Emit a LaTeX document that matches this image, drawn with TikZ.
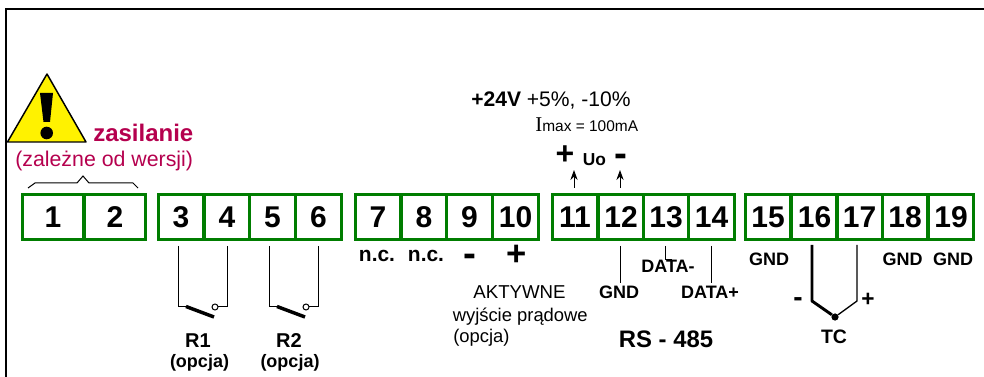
\documentclass[tikz,border=0pt]{standalone}
\usepackage{fontspec}
\setmainfont{Liberation Sans}
\newfontfamily\serifI{Liberation Serif}
\usepackage{tikz}
\usetikzlibrary{arrows.meta}
\definecolor{termgreen}{RGB}{0,125,0}
\definecolor{powerred}{RGB}{181,0,78}

\begin{document}
\begin{tikzpicture}[x=0.75pt,y=0.75pt,
    term/.style={draw=termgreen,line width=2.4pt,minimum height=33.6pt,inner sep=0pt,font=\fontsize{22.5}{22.5}\selectfont\bfseries},
    wide/.style={minimum width=45.8pt},
    narrow/.style={minimum width=34.2pt},
    wire/.style={black,line width=0.75pt},
    heavy/.style={black,line width=2.2pt},
    blab/.style={font=\fontsize{13.5}{13.5}\selectfont\bfseries,anchor=base},
    rlab/.style={font=\fontsize{14}{14}\selectfont,anchor=base west},
    sign/.style={font=\fontsize{26}{26}\selectfont\bfseries},
    minus/.style={font=\fontsize{29}{29}\selectfont\bfseries,anchor=base}]
    \tikzstyle{every node}+=[inner sep=0pt]
    \useasboundingbox (0,0) rectangle (984,-377);
    \draw [black,line width=1.6pt] (6,-377) -- (6,-9) -- (984,-9);
    \foreach \n/\cx in {1/53,2/115}
        \node [term,wide] (t\n) at (\cx,-217) {\n};
    \foreach \n/\cx in {3/181,4/227,5/272.5,6/318.5,7/378,8/424,9/469.5,10/515.5,11/575,12/621,13/666,14/711.5,15/768,16/814.5,17/859.5,18/905,19/951}
        \node [term,narrow] (t\n) at (\cx,-217) {\n};
    \draw [fill=yellow,draw=black,line width=1.1pt,line join=round] (47,-74) -- (86,-142) -- (7.5,-142) -- cycle;
    \fill [black] (40,-93) -- (53,-93) -- (50,-122) -- (43.5,-122) -- cycle;
    \fill [black] (46.7,-133) circle (6.3);
    \node [anchor=base west,text=powerred,font=\fontsize{18}{18}\selectfont\bfseries] (power) at (93,-142) {zasilanie};
    \node [anchor=base west,text=powerred,font=\fontsize{16}{16}\selectfont] (version) at (15,-167) {(zależne od wersji)};
    \draw [wire] (28,-188) -- (35,-183) -- (77,-183) -- (83,-176) -- (89,-183) -- (133,-183) -- (138,-188);
    \coordinate (r1a) at (178,-246);
    \coordinate (r1b) at (227,-246);
    \coordinate (r2a) at (269,-246);
    \coordinate (r2b) at (318,-246);
    \draw [wire] (r1a) -- (178,-307) -- (186,-307);
    \draw [heavy,line width=2.6pt] (186,-306.5) -- (214,-317);
    \draw [wire] (215,-307) circle (3);
    \draw [wire] (218,-307) -- (227,-307) -- (r1b);
    \draw [wire] (r2a) -- (269,-307) -- (277,-307);
    \draw [heavy,line width=2.6pt] (277,-306.5) -- (305,-317);
    \draw [wire] (306,-307) circle (3);
    \draw [wire] (309,-307) -- (318,-307) -- (r2b);
    \node [blab,font=\fontsize{15}{15}\selectfont\bfseries] (r1) at (198,-347) {R1};
    \node [blab] (r1opt) at (199.5,-367) {(opcja)};
    \node [blab,font=\fontsize{15}{15}\selectfont\bfseries] (r2) at (289,-347) {R2};
    \node [blab] (r2opt) at (290,-367) {(opcja)};
    \node [blab,font=\fontsize{15.7}{15.7}\selectfont\bfseries] (nc1) at (377,-262) {n.c.};
    \node [blab,font=\fontsize{15.7}{15.7}\selectfont\bfseries] (nc2) at (426,-262) {n.c.};
    \node [minus] (outminus) at (470,-267) {-};
    \node [sign] (outplus) at (516.5,-255) {+};
    \node [rlab,anchor=base] (active) at (519.5,-299) {AKTYWNE};
    \node [rlab,font=\fontsize{13.8}{13.8}\selectfont] (current) at (452.5,-321) {wyjście prądowe};
    \node [rlab,font=\fontsize{13.8}{13.8}\selectfont] (option) at (453,-342) {(opcja)};
    \node [anchor=base west,font=\fontsize{15.8}{15.8}\selectfont] (supply) at (471,-107) {\textbf{+24V} +5\%, -10\%};
    \node [anchor=base west,font=\fontsize{11.6}{11.6}\selectfont] (imax) at (535,-132) {{\serifI\fontsize{15.8}{15.8}\selectfont I}max = 100mA};
    \node [sign,font=\fontsize{24}{24}\selectfont\bfseries] (uplus) at (565,-155) {+};
    \node [blab,font=\fontsize{13}{13}\selectfont\bfseries] (uo) at (594.5,-166) {Uo};
    \node [minus] (uminus) at (621,-167) {-};
    \coordinate (a11) at (574,-188);
    \coordinate (a12) at (620,-188);
    \draw [-{Stealth[length=7.5pt,width=5.4pt]},wire] (a11) -- (574,-170);
    \draw [-{Stealth[length=7.5pt,width=5.4pt]},wire] (a12) -- (620,-170);
    \coordinate (gndw) at (620,-246);
    \coordinate (dmw) at (665,-246);
    \coordinate (dpw) at (711,-246);
    \draw [wire] (gndw) -- (620,-283);
    \draw [wire] (dmw) -- (665,-260) -- (672,-260);
    \draw [wire] (dpw) -- (711,-283);
    \node [blab] (gnd12) at (619,-299) {GND};
    \node [blab] (datam) at (668,-273) {DATA-};
    \node [blab] (datap) at (710,-299) {DATA+};
    \node [blab,font=\fontsize{17.9}{17.9}\selectfont\bfseries] (rs) at (666,-347) {RS - 485};
    \node [blab] (gnd15) at (769,-266) {GND};
    \node [blab] (gnd18) at (902.5,-266) {GND};
    \node [blab] (gnd19) at (953,-266) {GND};
    \coordinate (tcm) at (812,-245);
    \coordinate (tcp) at (857,-245);
    \node [circle,fill=black,minimum size=5.4pt] (tc) at (835,-317) {};
    \draw [heavy,line join=round] (tcm) -- (812,-301) -- (tc);
    \draw [black,line width=1pt,line join=round] (tcp) -- (857,-301) -- (tc);
    \node [minus,font=\fontsize{21}{21}\selectfont\bfseries] (tcminus) at (798,-306.5) {-};
    \node [sign,font=\fontsize{17}{17}\selectfont\bfseries] (tcplus) at (868,-300) {+};
    \node [blab,font=\fontsize{14.6}{14.6}\selectfont\bfseries] (tclab) at (834,-343) {TC};
\end{tikzpicture}
\end{document}
